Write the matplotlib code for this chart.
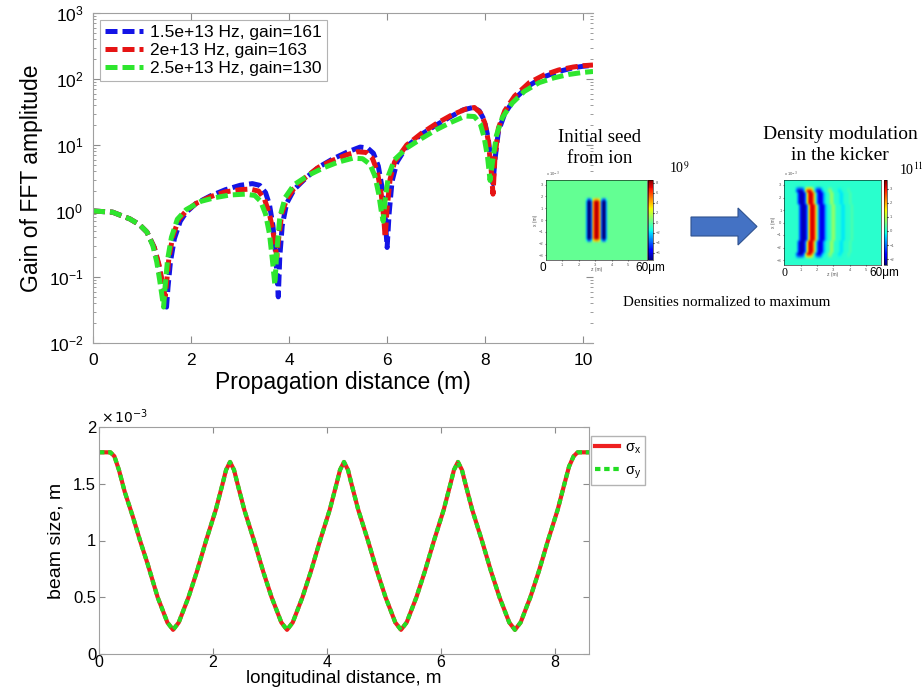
import numpy as np
import matplotlib
matplotlib.use("Agg")
import matplotlib.pyplot as plt
from matplotlib.ticker import FuncFormatter, LogLocator, NullFormatter
from matplotlib.patches import FancyArrow

plt.rcParams["font.family"] = ["Liberation Sans", "DejaVu Sans"]

# ---- top panel: gain of FFT amplitude vs propagation distance ----
labels_top = ["1.5e+13 Hz, gain=161", "2e+13 Hz, gain=163", "2.5e+13 Hz, gain=130"]

x_blue = [0, 0.4, 0.75, 0.95, 1.1, 1.25, 1.35, 1.42, 1.47, 1.50, 1.53, 1.58, 1.66, 1.78, 1.9,
          2.1, 2.4, 2.7, 3.0, 3.25, 3.4, 3.52, 3.6, 3.67, 3.72, 3.76, 3.78, 3.81, 3.86, 3.95,
          4.1, 4.35, 4.6, 4.9, 5.2, 5.45, 5.6, 5.72, 5.82, 5.9, 5.96, 6.0, 6.04, 6.1, 6.2,
          6.4, 6.7, 7.0, 7.3, 7.55, 7.75, 7.88, 7.98, 8.06, 8.12, 8.16, 8.2, 8.27, 8.4, 8.6,
          8.9, 9.2, 9.5, 9.8, 10.0, 10.2]
y_blue = [1.0, 0.96, 0.76, 0.62, 0.48, 0.28, 0.14, 0.075, 0.045, 0.035, 0.07, 0.17, 0.38, 0.7, 0.95,
          1.3, 1.7, 2.1, 2.45, 2.6, 2.45, 1.9, 1.25, 0.6, 0.25, 0.09, 0.05, 0.2, 0.6, 1.3,
          2.1, 3.2, 4.6, 6.2, 7.9, 9.3, 9.0, 7.5, 4.8, 2.2, 0.8, 0.28, 0.9, 2.8, 5.5,
          9.5, 14.5, 20, 27, 34, 37, 33, 24, 13, 5.5, 2.6, 6, 16, 30, 50,
          80, 108, 130, 148, 156, 161]

x_red = [0, 0.4, 0.75, 0.95, 1.1, 1.25, 1.35, 1.41, 1.45, 1.47, 1.50, 1.55, 1.63, 1.75, 1.9,
         2.1, 2.4, 2.7, 3.0, 3.2, 3.38, 3.5, 3.6, 3.67, 3.72, 3.75, 3.79, 3.85, 3.95,
         4.1, 4.35, 4.6, 4.9, 5.2, 5.4, 5.58, 5.7, 5.8, 5.88, 5.93, 5.96, 6.0, 6.06, 6.15,
         6.4, 6.7, 7.0, 7.3, 7.6, 7.78, 7.9, 7.99, 8.06, 8.12, 8.16, 8.2, 8.27, 8.4, 8.6,
         8.9, 9.2, 9.5, 9.8, 10.0, 10.2]
y_red = [1.0, 0.96, 0.76, 0.62, 0.48, 0.28, 0.15, 0.085, 0.06, 0.05, 0.08, 0.2, 0.42, 0.75, 1.0,
         1.3, 1.65, 1.95, 2.1, 2.15, 2.0, 1.5, 0.9, 0.5, 0.28, 0.2, 0.4, 0.9, 1.5,
         2.2, 3.3, 4.6, 5.9, 7.2, 7.9, 7.7, 6.3, 4.0, 1.8, 0.8, 0.4, 1.1, 3.0, 5.5,
         10, 15, 21, 28, 35, 37, 31, 22, 12, 4.5, 1.8, 6.5, 18, 33, 55,
         88, 115, 137, 152, 159, 163]

x_green = [0, 0.4, 0.75, 0.95, 1.1, 1.22, 1.3, 1.36, 1.41, 1.44, 1.47, 1.52, 1.6, 1.72, 1.9,
           2.2, 2.5, 2.8, 3.1, 3.3, 3.42, 3.52, 3.6, 3.66, 3.71, 3.75, 3.81, 3.92,
           4.1, 4.4, 4.7, 5.0, 5.3, 5.5, 5.65, 5.75, 5.83, 5.88, 5.92, 5.96, 6.03, 6.15,
           6.4, 6.7, 7.0, 7.3, 7.6, 7.78, 7.9, 7.98, 8.05, 8.1, 8.15, 8.23, 8.35, 8.55,
           8.8, 9.1, 9.4, 9.7, 10.0, 10.2]
y_green = [1.0, 0.96, 0.76, 0.62, 0.48, 0.3, 0.17, 0.09, 0.05, 0.035, 0.07, 0.18, 0.4, 0.75, 1.05,
           1.4, 1.6, 1.75, 1.8, 1.72, 1.4, 0.9, 0.45, 0.18, 0.076, 0.25, 0.8, 1.6,
           2.5, 3.5, 4.5, 5.5, 6.3, 6.2, 5.1, 3.4, 1.8, 1.0, 0.7, 1.5, 3.5, 6,
           9, 12.5, 17, 22, 27.5, 27, 21, 13, 6.5, 2.9, 5.5, 14, 26, 43,
           65, 88, 104, 117, 126, 130]

# ---- bottom panel: beam size (units of 1e-3 m) ----
z_beam = [0, 0.2, 0.27, 0.35, 0.45, 0.6, 0.72, 0.85, 1.03, 1.1, 1.2, 1.3,
          1.4, 1.5, 1.57, 1.72, 1.88, 2.05, 2.17, 2.23, 2.3, 2.37, 2.43, 2.55, 2.72, 2.88, 3.03,
          3.1, 3.2, 3.3, 3.4, 3.5, 3.57, 3.72, 3.88, 4.05, 4.17, 4.23, 4.3, 4.37, 4.43, 4.55,
          4.72, 4.88, 5.03, 5.1, 5.2, 5.3, 5.4, 5.5, 5.57, 5.72, 5.88, 6.05, 6.17, 6.23, 6.3,
          6.37, 6.43, 6.55, 6.72, 6.88, 7.03, 7.1, 7.2, 7.3, 7.4, 7.5, 7.57, 7.72, 7.88, 8.05,
          8.17, 8.25, 8.33, 8.4, 8.6]
sigma_x = [1.775, 1.775, 1.74, 1.62, 1.43, 1.2, 1.0, 0.8, 0.5, 0.41, 0.28, 0.215,
           0.28, 0.41, 0.5, 0.73, 1.0, 1.27, 1.5, 1.62, 1.69, 1.62, 1.5, 1.27, 1.0, 0.73, 0.5,
           0.41, 0.28, 0.215, 0.28, 0.41, 0.5, 0.73, 1.0, 1.27, 1.5, 1.62, 1.69, 1.62, 1.5, 1.27,
           1.0, 0.73, 0.5, 0.41, 0.28, 0.215, 0.28, 0.41, 0.5, 0.73, 1.0, 1.27, 1.5, 1.62, 1.69,
           1.62, 1.5, 1.27, 1.0, 0.73, 0.5, 0.41, 0.28, 0.215, 0.28, 0.41, 0.5, 0.73, 1.0, 1.27,
           1.5, 1.65, 1.74, 1.775, 1.775]
sigma_y = list(sigma_x)  # the two curves coincide in the picture

# ---- density insets ----
# initial seed: z profile (z = 0..6.0 m in 0.1 m steps), nonzero columns only
seed_z = [2.4, 2.5, 2.6, 2.7, 2.8, 2.9, 3.0, 3.1, 3.2, 3.3, 3.4, 3.5, 3.6]
seed_amp = [-3, -8, -8, -4, 4, 7, 8, 7, 4, -4, -8, -8, -3]
seed_rows = [0] * 8 + [0.5] + [1] * 17 + [0.5] + [0] * 8

# kicker modulation: z profile (z = 0..5.9 m in 0.1 m steps)
kick_profile = [0, 0, 0, 0, 0, 0, 0, -0.8, -1.8, -2.1, -2.1, -1.8, -0.8, 1.5, 3, 3.2, 3, 2, 0.5,
                -0.8, -1.7, -1.9, -1.7, -0.8, -0.3, 0, 0, 0.5, 0.8, 0.5, 0, 0, 0, -0.2, -0.3, -0.2, 0,
                0, 0, 0.2, 0.2, 0, 0, 0, 0, 0, 0, 0, 0, 0, 0, 0, 0, 0, 0, 0, 0, 0, 0, 0]
kick_rows = [0] * 3 + [0.5] + [1] * 27 + [0.5] + [0] * 3
kick_shift = [0] * 5 + [1] * 5 + [2] * 15 + [1] * 5 + [0] * 5

fig = plt.figure(figsize=(9.23, 6.88), dpi=100)
GRAY = "#8c8c8c"

ax1 = fig.add_axes([93 / 923, 1 - 343 / 688, 500 / 923, 330 / 688])
dash = (0, (2.4, 1.0))
ax1.plot(x_blue, y_blue, color="#1414e6", lw=3.6, linestyle=dash, label=labels_top[0])
ax1.plot(x_red, y_red, color="#e61414", lw=3.6, linestyle=dash, label=labels_top[1])
ax1.plot(x_green, y_green, color="#2ee62e", lw=3.6, linestyle=dash, label=labels_top[2])
ax1.set_yscale("log")
ax1.set_xlim(0, 10.2)
ax1.set_ylim(1e-2, 1e3)
ax1.set_xticks([0, 2, 4, 6, 8, 10])
ax1.yaxis.set_major_locator(LogLocator(base=10, numticks=10))
ax1.yaxis.set_minor_locator(LogLocator(base=10, subs=np.arange(2, 10), numticks=10))
ax1.yaxis.set_minor_formatter(NullFormatter())
ax1.tick_params(which="both", direction="in", top=True, right=True, color=GRAY,
                labelsize=12.5, pad=7)
ax1.tick_params(which="major", length=5)
ax1.tick_params(which="minor", length=2.5)
for s in ax1.spines.values():
    s.set_color("#a0a0a0")
ax1.spines["right"].set_visible(False)
ax1.set_xlabel("Propagation distance (m)", fontsize=16.5, labelpad=2)
ax1.set_ylabel("Gain of FFT amplitude", fontsize=16.5, labelpad=4)
leg = ax1.legend(loc="upper left", fontsize=12.5, handlelength=2.2, handletextpad=0.4,
                 borderpad=0.3, labelspacing=0.15, fancybox=False, borderaxespad=0.4)
leg.get_frame().set_edgecolor("#a0a0a0")
leg.get_frame().set_linewidth(0.8)

ax2 = fig.add_axes([99 / 923, 1 - 654.3 / 688, 490 / 923, 227.6 / 688])
ax2.plot(z_beam, sigma_x, color="#ee2020", lw=3, label="σ$_\\mathregular{x}$")
ax2.plot(z_beam, sigma_y, color="#22dd22", lw=3, linestyle=(0, (1.3, 0.9)),
         label="σ$_\\mathregular{y}$")
ax2.set_xlim(0, 8.6)
ax2.set_ylim(0, 2)
ax2.set_xticks([0, 2, 4, 6, 8])
ax2.set_yticks([0, 0.5, 1, 1.5, 2])
ax2.yaxis.set_major_formatter(FuncFormatter(lambda v, p: "%g" % v))
ax2.tick_params(direction="in", top=True, right=True, color=GRAY, labelsize=12, length=4, pad=2)
ax2.tick_params(axis="x", pad=0.5, labelsize=11.5)
for s in ax2.spines.values():
    s.set_color("#a0a0a0")
ax2.set_xlabel("longitudinal distance, m", fontsize=13.5, labelpad=0)
ax2.set_ylabel("beam size, m", fontsize=14, labelpad=6)
ax2.text(0.005, 1.005, r"$\times\,10^{-3}$", transform=ax2.transAxes, fontsize=10,
         ha="left", va="bottom")
leg2 = ax2.legend(loc="upper left", bbox_to_anchor=(1.004, 0.96), fontsize=10.5,
                  handlelength=1.6, handletextpad=0.4, borderpad=0.3, labelspacing=0.5,
                  fancybox=False, borderaxespad=0)
leg2.get_frame().set_edgecolor("#a0a0a0")

# initial seed image
seed = np.zeros((len(seed_rows), 61))
for zz, a in zip(seed_z, seed_amp):
    seed[:, int(round(zz * 10))] = a
seed = seed * np.array(seed_rows)[:, None]
ax3 = fig.add_axes([545.7 / 923, 1 - 260 / 688, 101 / 923, 80 / 688])
im3 = ax3.imshow(seed, cmap="jet", vmin=-7.5, vmax=8.5, aspect="auto", origin="lower",
                 extent=[0, 6.1, -3.4, 3.4], interpolation="bicubic")
cax3 = fig.add_axes([647.7 / 923, 1 - 260 / 688, 5 / 923, 80 / 688])
cb3 = fig.colorbar(im3, cax=cax3, ticks=[-6, -4, -2, 0, 2, 4, 6, 8])

# kicker image
kick = np.zeros((len(kick_rows), len(kick_profile)))
for r in range(len(kick_rows)):
    kick[r] = np.roll(kick_profile, kick_shift[r]) * kick_rows[r]
ax4 = fig.add_axes([784.3 / 923, 1 - 265 / 688, 96.4 / 923, 85 / 688])
im4 = ax4.imshow(kick, cmap="jet", vmin=-2.4, vmax=3.6, aspect="auto", origin="lower",
                 extent=[0, 5.9, -3.4, 3.4], interpolation="bicubic")
cax4 = fig.add_axes([884.3 / 923, 1 - 265 / 688, 3 / 923, 85 / 688])
cb4 = fig.colorbar(im4, cax=cax4, ticks=[-2, -1, 0, 1, 2, 3])

for a in (ax3, ax4):
    a.set_xticks([1, 2, 3, 4, 5])
    a.set_yticks([-3, -2, -1, 0, 1, 2, 3])
    a.tick_params(labelsize=3, length=1, pad=1, color="#777777", labelcolor="#555555")
    a.set_xlabel("z (m)", fontsize=3.5, labelpad=0.5, color="#555555")
    a.set_ylabel("x (m)", fontsize=3.5, labelpad=0.5, color="#555555")
    a.text(0, 1.01, r"x 10$^{-3}$", transform=a.transAxes, fontsize=3, color="#555555",
           va="bottom")
    for s in a.spines.values():
        s.set_linewidth(0.4)
for c in (cb3, cb4):
    c.ax.tick_params(labelsize=3, length=1, pad=1, labelcolor="#555555")
    c.outline.set_linewidth(0.4)

# overlay for annotations (pixel coordinates)
ov = fig.add_axes([0, 0, 1, 1], zorder=5)
ov.set_xlim(0, 923)
ov.set_ylim(688, 0)
ov.axis("off")
ov.patch.set_alpha(0)
serif = ["Liberation Serif", "DejaVu Serif"]
ov.text(600, 148, "Initial seed\nfrom ion", family=serif, fontsize=13.5, ha="center",
        va="center", linespacing=1.25)
ov.text(669, 168, r"10$^9$", family=serif, math_fontfamily="stix", fontsize=10, va="center")
ov.text(840, 145, "Density modulation\nin the kicker", family=serif, fontsize=14,
        ha="center", va="center", linespacing=1.3)
ov.text(899, 170, r"10$^{11}$", family=serif, math_fontfamily="stix", fontsize=10, va="center")
ov.text(543, 268, "0", fontsize=8.5, va="center", ha="center")
ov.text(650, 268, "60μm", fontsize=8.5, va="center", ha="center")
ov.text(785, 273, "0", family=serif, fontsize=8.5, va="center", ha="center")
ov.text(884, 273, "60μm", fontsize=8.5, va="center", ha="center")
ov.text(727, 302, "Densities normalized to maximum", family=serif, fontsize=10.8,
        ha="center", va="center")
ov.add_patch(FancyArrow(691, 226.5, 66, 0, width=19, head_width=37, head_length=19,
                        length_includes_head=True, facecolor="#4472c4", edgecolor="#2f528f",
                        linewidth=0.8))

fig.savefig("out.png", dpi=100)
